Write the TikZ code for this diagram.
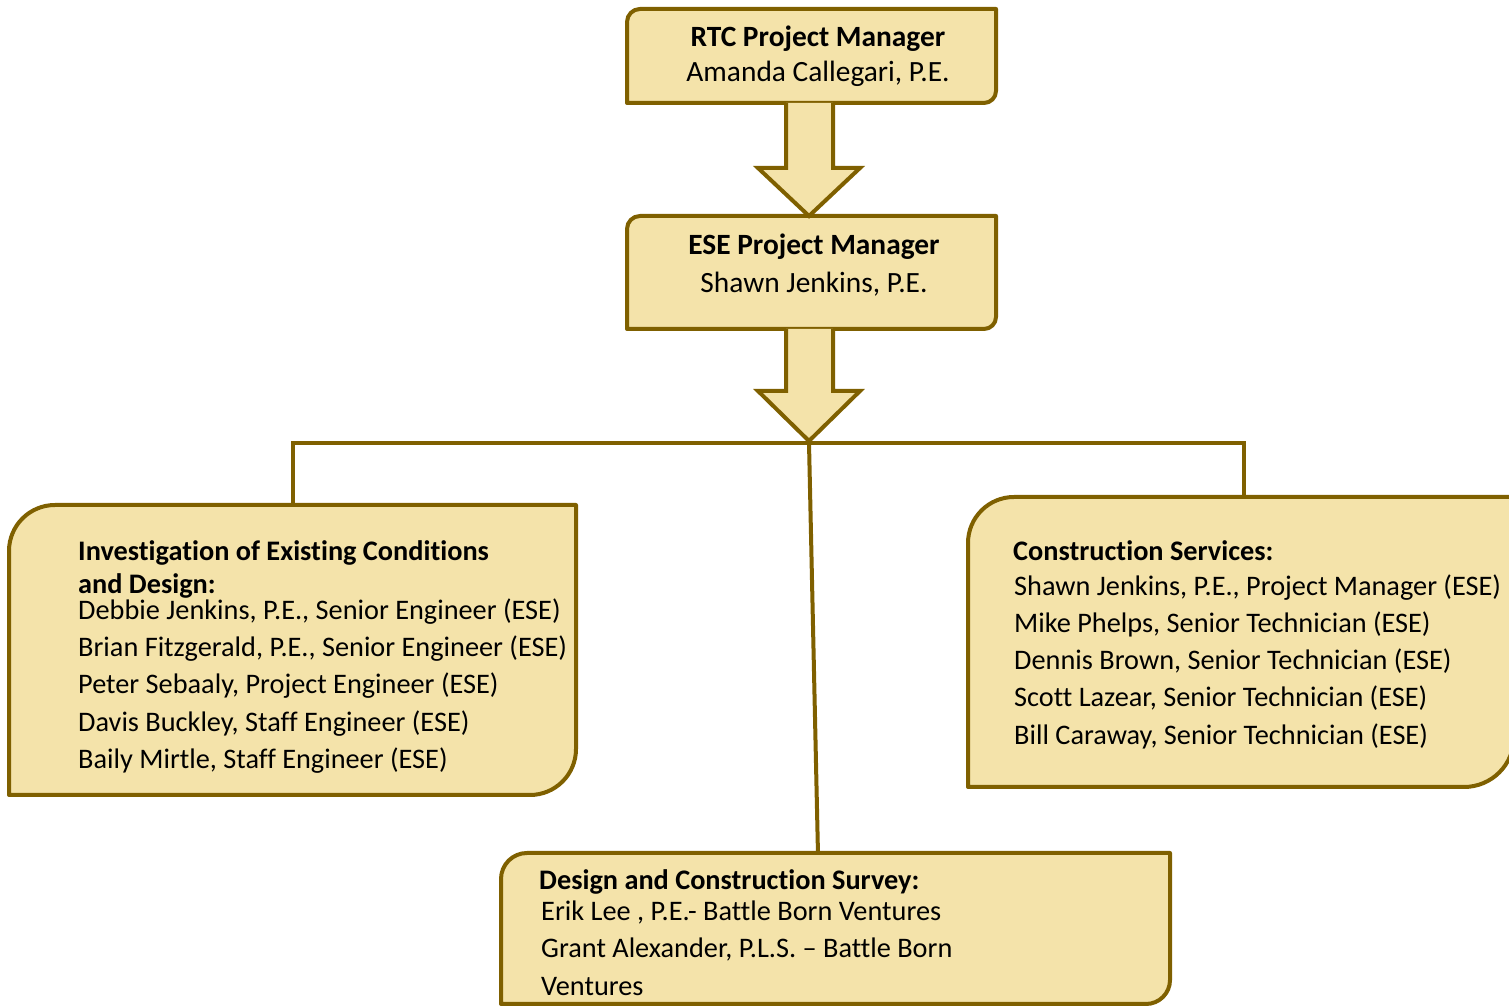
\documentclass[tikz,border=0pt]{standalone}
\usepackage{fontspec}
\setmainfont[Ligatures={NoCommon}]{Carlito}
\definecolor{boxfill}{HTML}{F4E3AA}
\definecolor{boxline}{HTML}{7F6000}
\begin{document}
\begin{tikzpicture}[x=1pt,y=1pt,
  boxshape/.style={draw=boxline,fill=boxfill,line width=4pt,line join=round},
  conn/.style={draw=boxline,line width=4pt},
  blockarrow/.style={draw=boxline,fill=boxfill,line width=4pt,line join=miter},
  txt/.style={inner sep=0pt,font=\fontsize{28.3}{34}\selectfont},
  hd/.style={txt,font=\fontsize{28.3}{34}\selectfont\bfseries},
  toptxt/.style={inner sep=0pt,font=\fontsize{29.4}{35}\selectfont},
  tophd/.style={inner sep=0pt,font=\fontsize{29.4}{35}\selectfont\bfseries}]
\useasboundingbox (0,0) rectangle (1509,1008);
% connectors
\coordinate (hl) at (293,565);
\coordinate (hr) at (1244,565);
\coordinate (hc) at (809,565);
\coordinate (lt) at (293,503);
\coordinate (rt) at (1244,511);
\coordinate (bt) at (818,153);
\draw[conn] (lt) -- (hl) -- (hr) -- (rt);
\draw[conn] (hc) -- (bt);
% boxes
\def\rbox#1#2#3#4#5#6{%
  \path[boxshape] (#1,#4) -- (#1,#3-#5) arc[start angle=180,end angle=90,radius=#5pt]
    -- (#2,#3) -- (#2,#4+#6) arc[start angle=0,end angle=-90,radius=#6pt] -- cycle;}
\rbox{627}{996}{999}{905}{13}{12}
\rbox{627}{996}{792}{679}{13}{12}
\rbox{9}{576}{503}{213}{46}{46}
\rbox{968}{1514}{511}{221}{46}{50}
\rbox{501}{1170}{155}{4}{26}{24}
% block arrows
\coordinate (a1s) at (809,905);
\coordinate (a1t) at (809,792);
\coordinate (a2s) at (809,679);
\coordinate (a2t) at (809,567);
\path[blockarrow] (786,905) -- (786,840) -- (758,840) -- (a1t) -- (860,840) -- (833,840) -- (833,905);
\path[blockarrow] (786,679) -- (786,617) -- (758,617) -- (a2t) -- (860,617) -- (833,617) -- (833,679);
% texts
\node[tophd,anchor=base] (t1) at (818,961) {RTC Project Manager};
\node[toptxt,anchor=base] (t2) at (818,926) {Amanda Callegari, P.E.};
\node[tophd,anchor=base] (e1) at (814,753) {ESE Project Manager};
\node[toptxt,anchor=base] (e2) at (814,715) {Shawn Jenkins, P.E.};
\node[hd,anchor=base west] (l1) at (78,447) {Investigation of Existing Conditions};
\node[hd,anchor=base west] (l2) at (78,414) {and Design:};
\node[txt,anchor=base west] (l3) at (78,388) {Debbie Jenkins, P.E., Senior Engineer (ESE)};
\node[txt,anchor=base west] (l4) at (78,351) {Brian Fitzgerald, P.E., Senior Engineer (ESE)};
\node[txt,anchor=base west] (l5) at (78,314) {Peter Sebaaly, Project Engineer (ESE)};
\node[txt,anchor=base west] (l6) at (78,276) {Davis Buckley, Staff Engineer (ESE)};
\node[txt,anchor=base west] (l7) at (78,239) {Baily Mirtle, Staff Engineer (ESE)};
\node[hd,anchor=base west] (r1) at (1013,447) {Construction Services:};
\node[txt,anchor=base west] (r2) at (1014,412) {Shawn Jenkins, P.E., Project Manager (ESE)};
\node[txt,anchor=base west] (r3) at (1014,375) {Mike Phelps, Senior Technician (ESE)};
\node[txt,anchor=base west] (r4) at (1014,338) {Dennis Brown, Senior Technician (ESE)};
\node[txt,anchor=base west] (r5) at (1014,301) {Scott Lazear, Senior Technician (ESE)};
\node[txt,anchor=base west] (r6) at (1014,263) {Bill Caraway, Senior Technician (ESE)};
\node[hd,anchor=base west] (b1) at (539,118) {Design and Construction Survey:};
\node[txt,anchor=base west] (b2) at (541,87) {Erik Lee , P.E.- Battle Born Ventures};
\node[txt,anchor=base west] (b3) at (541,50) {Grant Alexander, P.L.S. – Battle Born};
\node[txt,anchor=base west] (b4) at (541,12) {Ventures};
\end{tikzpicture}
\end{document}
